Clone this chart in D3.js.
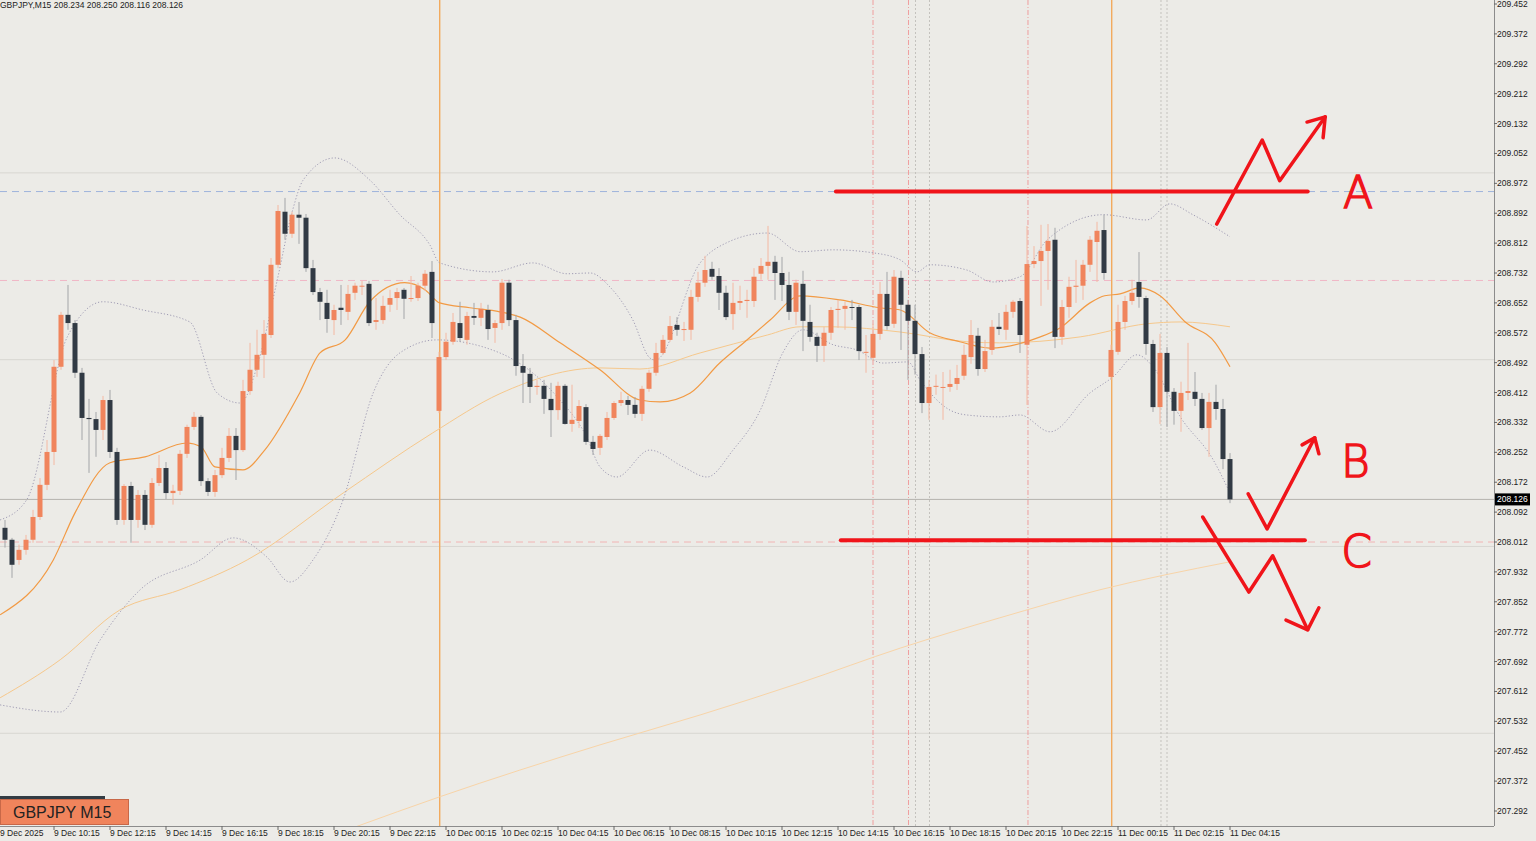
<!DOCTYPE html>
<html><head><meta charset="utf-8">
<script src="https://cdn.jsdelivr.net/npm/d3@7"></script>
<style>body{margin:0;background:#ecebe7;overflow:hidden}svg{display:block}</style>
</head><body>
<svg id="c" width="1536" height="841"></svg>
<script>
const opens=[208.050,208.018,207.964,207.991,208.018,208.079,208.165,208.253,208.481,208.620,
208.598,208.465,208.344,208.341,208.312,208.392,208.253,208.071,208.162,208.071,
208.138,208.058,208.170,208.210,208.143,208.149,208.248,208.320,208.347,208.175,
208.146,208.191,208.237,208.296,208.258,208.416,208.473,208.513,208.566,208.754,
208.896,208.837,208.888,208.880,208.745,208.681,208.652,208.606,208.639,208.628,
208.679,208.698,208.703,208.601,208.606,208.647,208.665,208.687,208.665,208.665,
208.698,208.735,208.363,208.507,208.548,208.598,208.553,208.617,208.612,208.633,
208.585,208.598,208.706,208.606,208.483,208.462,208.427,208.430,208.395,208.365,
208.430,208.328,208.336,208.373,208.280,208.264,208.293,208.344,208.384,208.392,
208.379,208.355,208.422,208.465,208.518,208.553,208.593,208.582,208.580,208.668,
208.706,208.743,208.724,208.679,208.622,208.652,208.657,208.657,208.730,208.751,
208.762,208.732,208.700,208.628,208.703,208.601,208.561,208.537,208.572,208.633,
208.636,208.641,208.641,208.521,208.505,208.569,208.676,208.596,208.719,208.647,
208.604,208.515,208.384,208.430,208.427,208.427,208.435,208.457,208.507,208.564,
208.475,208.526,208.588,208.580,208.628,208.657,208.540,208.756,208.764,208.791,
208.821,208.561,208.641,208.695,208.698,208.754,208.815,208.847,208.454,208.521,
208.601,208.657,208.708,208.665,208.542,208.373,208.518,208.414,208.363,208.411,
208.414,208.395,208.317,208.387,208.368,208.234];
const closes=[208.018,207.951,207.991,208.018,208.079,208.165,208.253,208.481,208.620,208.598,
208.465,208.344,208.341,208.312,208.392,208.253,208.071,208.162,208.071,208.138,
208.058,208.170,208.210,208.143,208.149,208.248,208.320,208.347,208.175,208.146,
208.191,208.237,208.296,208.258,208.416,208.473,208.513,208.569,208.754,208.898,
208.837,208.888,208.880,208.745,208.681,208.655,208.609,208.633,208.633,208.676,
208.698,208.698,208.598,208.606,208.644,208.665,208.681,208.663,208.665,208.698,
208.730,208.598,208.507,208.548,208.601,208.558,208.617,208.612,208.636,208.582,
208.598,208.706,208.606,208.483,208.465,208.427,208.430,208.395,208.365,208.430,
208.328,208.339,208.376,208.280,208.261,208.296,208.344,208.384,208.392,208.379,
208.355,208.422,208.465,208.518,208.553,208.590,208.580,208.582,208.668,208.706,
208.740,208.722,208.679,208.614,208.652,208.657,208.660,208.722,208.751,208.762,
208.732,208.700,208.628,208.706,208.604,208.561,208.537,208.572,208.633,208.636,
208.644,208.639,208.523,208.521,208.569,208.676,208.590,208.722,208.647,208.604,
208.515,208.384,208.427,208.430,208.427,208.435,208.451,208.513,208.566,208.475,
208.523,208.588,208.582,208.628,208.655,208.566,208.756,208.764,208.791,208.818,
208.561,208.641,208.695,208.698,208.754,208.821,208.845,208.732,208.526,208.601,
208.657,208.679,208.668,208.542,208.373,208.518,208.414,208.363,208.411,208.416,
208.395,208.317,208.387,208.368,208.234,208.126];
const highs=[208.071,208.023,208.005,208.031,208.098,208.183,208.285,208.499,208.628,208.700,
208.606,208.478,208.395,208.360,208.403,208.419,208.264,208.167,208.173,208.151,
208.151,208.183,208.245,208.226,208.165,208.258,208.326,208.360,208.352,208.183,
208.205,208.264,208.317,208.317,208.446,208.545,208.580,208.606,208.772,208.914,
208.933,208.896,208.922,208.890,208.767,208.692,208.687,208.647,208.700,208.700,
208.706,208.711,208.711,208.665,208.671,208.687,208.692,208.692,208.724,208.706,
208.740,208.764,208.521,208.572,208.625,208.655,208.628,208.652,208.652,208.647,
208.606,208.716,208.714,208.620,208.515,208.478,208.446,208.446,208.438,208.441,
208.435,208.433,208.392,208.381,208.296,208.301,208.360,208.389,208.414,208.403,
208.400,208.430,208.473,208.545,208.566,208.617,208.614,208.601,208.687,208.735,
208.778,208.762,208.745,208.698,208.706,208.698,208.687,208.745,208.772,208.858,
208.778,208.775,208.735,208.714,208.738,208.647,208.572,208.588,208.641,208.660,
208.655,208.660,208.647,208.566,208.596,208.708,208.735,208.740,208.738,208.660,
208.647,208.534,208.446,208.460,208.467,208.473,208.486,208.540,208.606,208.585,
208.553,208.606,208.625,208.647,208.660,208.665,208.858,208.804,208.861,208.863,
208.853,208.660,208.722,208.767,208.767,208.831,208.869,208.888,208.540,208.647,
208.671,208.714,208.788,208.671,208.553,208.569,208.534,208.424,208.441,208.545,
208.467,208.411,208.411,208.433,208.395,208.250];
const lows=[207.997,207.916,207.951,207.978,208.010,208.071,208.151,208.218,208.473,208.580,
208.451,208.285,208.197,208.240,208.285,208.237,208.058,208.058,208.010,208.050,
208.044,208.050,208.162,208.127,208.112,208.138,208.237,208.312,208.162,208.135,
208.133,208.183,208.226,208.178,208.253,208.406,208.454,208.451,208.558,208.745,
208.821,208.826,208.810,208.735,208.673,208.606,208.572,208.566,208.593,208.606,
208.660,208.673,208.590,208.580,208.596,208.628,208.633,208.609,208.655,208.657,
208.684,208.558,208.357,208.499,208.540,208.548,208.540,208.593,208.590,208.553,
208.545,208.580,208.590,208.457,208.384,208.384,208.406,208.355,208.293,208.339,
208.326,208.307,208.317,208.272,208.245,208.245,208.285,208.339,208.376,208.352,
208.344,208.336,208.414,208.457,208.513,208.548,208.564,208.550,208.553,208.655,
208.695,208.714,208.633,208.606,208.580,208.633,208.612,208.641,208.714,208.714,
208.660,208.657,208.606,208.593,208.523,208.548,208.494,208.494,208.553,208.585,
208.580,208.606,208.499,208.465,208.497,208.553,208.580,208.585,208.526,208.446,
208.460,208.357,208.339,208.406,208.339,208.414,208.419,208.446,208.489,208.457,
208.467,208.513,208.566,208.553,208.612,208.518,208.379,208.745,208.644,208.687,
208.531,208.540,208.612,208.652,208.660,208.735,208.708,208.714,208.446,208.513,
208.580,208.647,208.639,208.513,208.360,208.328,208.320,208.326,208.307,208.392,
208.376,208.312,208.240,208.339,208.207,208.116];

const ma20=[[-0.7,207.817],[6.9,207.964],[10,208.090],[15,208.224],[20,208.240],[26,208.277],[28,208.267],[30,208.213],[34,208.205],[37.1,208.258],[42.1,208.411],[45,208.518],[48.6,208.553],[52.1,208.655],[57.1,208.706],[60,208.687],[62.1,208.652],[66.4,208.639],[70.7,208.628],[73.6,208.614],[79.3,208.545],[85,208.473],[90.7,208.392],[93.6,208.387],[97.9,208.411],[102.1,208.491],[105.7,208.548],[109.3,208.606],[113.6,208.671],[119.3,208.660],[125,208.639],[127.9,208.633],[132.1,208.572],[136.4,208.548],[140.7,208.531],[147.9,208.561],[150.7,208.585],[155,208.652],[157.1,208.671],[159.3,208.676],[162.1,208.692],[165,208.671],[168.6,208.601],[172.9,208.545],[175,208.481]];
const ma50=[[-0.7,207.595],[7.9,207.697],[16.4,207.830],[25,207.884],[34.6,207.964],[48.3,208.143],[61.1,208.304],[70.7,208.409],[85,208.478],[90.7,208.475],[99.3,208.518],[108.9,208.566],[113.6,208.588],[118.3,208.588],[127.9,208.574],[137.4,208.548],[142.1,208.545],[153.6,208.561],[163.1,208.596],[167.9,208.601],[175,208.588]];
const ma200=[[50,207.249],[62.1,207.330],[85,207.469],[99.3,207.549],[113.6,207.635],[127.9,207.728],[142.1,207.809],[156.4,207.884],[175,207.959]];
const bbUpper=[[-0.7,208.071],[3.1,208.125],[8.9,208.561],[14,208.655],[19.7,208.633],[26.4,208.601],[30.3,208.411],[33.6,208.384],[36,208.481],[38.9,208.714],[41.1,208.901],[42.6,208.981],[47.1,209.040],[52.1,208.981],[56.4,208.888],[60.7,208.807],[62.1,208.759],[69.7,208.735],[75.4,208.759],[80.3,208.730],[83.6,208.732],[86.4,208.695],[89.7,208.606],[92.1,208.505],[92.9,208.499],[99.3,208.759],[103.1,208.813],[108.9,208.839],[113.6,208.789],[118.3,208.794],[124,208.786],[127.9,208.767],[130.3,208.735],[132.1,208.754],[137.4,208.740],[141.1,208.708],[145,208.722],[148.9,208.821],[156.9,208.888],[163.1,208.874],[166.4,208.917],[169.7,208.888],[175,208.829]];
const bbLower=[[-0.7,207.576],[7.9,207.557],[13.6,207.750],[19.3,207.884],[27.9,207.964],[32.6,208.023],[37.4,207.972],[40.7,207.905],[44,207.964],[48.3,208.125],[52.6,208.411],[56.4,208.518],[61.7,208.553],[70.7,208.518],[78.9,208.400],[83.1,208.293],[85,208.213],[87.4,208.186],[92.1,208.258],[96.9,208.213],[100.3,208.186],[104,208.258],[107.9,208.365],[111.1,208.518],[114,208.580],[118.3,208.540],[121.7,208.526],[125.4,208.491],[129,208.494],[130.7,208.446],[135,208.365],[137.4,208.352],[142.1,208.347],[145,208.352],[149.3,208.307],[155,208.411],[158.3,208.454],[161.7,208.513],[164,208.481],[167.9,208.347],[172.6,208.232],[175,208.143]];

const priceTicks=[209.452,209.372,209.292,209.212,209.132,209.052,208.972,208.892,208.812,208.732,208.652,208.572,208.492,208.412,208.332,208.252,208.172,208.092,208.012,207.932,207.852,207.772,207.692,207.612,207.532,207.452,207.372,207.292];
const timeLabels=["9 Dec 2025","9 Dec 10:15","9 Dec 12:15","9 Dec 14:15","9 Dec 16:15","9 Dec 18:15","9 Dec 20:15","9 Dec 22:15","10 Dec 00:15","10 Dec 02:15","10 Dec 04:15","10 Dec 06:15","10 Dec 08:15","10 Dec 10:15","10 Dec 12:15","10 Dec 14:15","10 Dec 16:15","10 Dec 18:15","10 Dec 20:15","10 Dec 22:15","11 Dec 00:15","11 Dec 02:15","11 Dec 04:15"];
const timeLabelIdx=[-1,7,15,23,31,39,47,55,63,71,79,87,95,103,111,119,127,135,143,151,159,167,175];
const gridLevels=[209.0,208.5,208.0,207.5];
const levelLines=[{p:208.950,c:"#9fb4dc",d:"7,5"},{p:208.712,c:"#f0b6c6",d:"7,5"},{p:208.012,c:"#f2b4b4",d:"7,5"}];
const daySeps=[62,158];
const redVLines=[124,129.07,146.14];
const greyVLines=[130.07,132.07,165.14,166];
const lastPrice=208.126;

const W=1536,H=841,plotR=1494,plotB=826;
const x=d3.scaleLinear().domain([0,175]).range([5,1230]);
const y=d3.scaleLinear().domain([207.292,209.452]).range([811,4]);
const svg=d3.select("#c");
svg.append("rect").attr("width",W).attr("height",H).attr("fill","#ecebe7");
svg.append("defs").append("clipPath").attr("id","pc").append("rect").attr("width",plotR).attr("height",plotB);
const g=svg.append("g").attr("clip-path","url(#pc)");

gridLevels.forEach(p=>g.append("line").attr("x1",0).attr("x2",plotR).attr("y1",y(p)).attr("y2",y(p)).attr("stroke","#d8d6d2"));
levelLines.forEach(l=>g.append("line").attr("x1",0).attr("x2",plotR).attr("y1",y(l.p)).attr("y2",y(l.p)).attr("stroke",l.c).attr("stroke-dasharray",l.d));
g.append("line").attr("x1",0).attr("x2",plotR).attr("y1",y(lastPrice)).attr("y2",y(lastPrice)).attr("stroke","#b5b3ae");
redVLines.forEach(i=>g.append("line").attr("x1",x(i)).attr("x2",x(i)).attr("y1",0).attr("y2",plotB).attr("stroke","#ef9e9e").attr("stroke-dasharray","5,2,1,2"));
greyVLines.forEach(i=>g.append("line").attr("x1",x(i)).attr("x2",x(i)).attr("y1",0).attr("y2",plotB).attr("stroke","#c4c2be").attr("stroke-dasharray","2,2"));
daySeps.forEach(i=>g.append("rect").attr("x",Math.round(x(i))).attr("y",0).attr("width",1.4).attr("height",plotB).attr("fill","#f2aa5e"));

const ln=d3.line().x(d=>x(d[0])).y(d=>y(d[1])).curve(d3.curveMonotoneX);
g.append("path").attr("d",ln(ma200)).attr("fill","none").attr("stroke","#f8d4a8").attr("stroke-width",1);
g.append("path").attr("d",ln(ma50)).attr("fill","none").attr("stroke","#f6c88c").attr("stroke-width",1);
[bbUpper,bbLower].forEach(b=>g.append("path").attr("d",ln(b)).attr("fill","none").attr("stroke","#a09cb4").attr("stroke-width",1).attr("stroke-dasharray","1.2,2"));
g.append("path").attr("d",ln(ma20)).attr("fill","none").attr("stroke","#f29a44").attr("stroke-width",1.2);

const idx=d3.range(opens.length);
g.selectAll(".w").data(idx).join("line").attr("x1",i=>x(i)).attr("x2",i=>x(i)).attr("y1",i=>y(highs[i])).attr("y2",i=>y(lows[i]))
 .attr("stroke",i=>closes[i]>=opens[i]?"#f4b8a2":"#a3a5a8").attr("stroke-width",1);
g.selectAll(".b").data(idx).join("rect").attr("x",i=>x(i)-2.5).attr("width",5)
 .attr("y",i=>y(Math.max(opens[i],closes[i]))).attr("height",i=>Math.max(1,Math.abs(y(opens[i])-y(closes[i]))))
 .attr("fill",i=>closes[i]>=opens[i]?"#f0845c":"#313a44");

const red="#f0141a";
const ann=svg.append("g").attr("fill","none").attr("stroke",red).attr("stroke-linecap","round").attr("stroke-linejoin","round");
const lin=d3.line().x(d=>x(d[0])).y(d=>y(d[1]));
ann.append("path").attr("d",lin([[118.7,208.950],[186.1,208.950]])).attr("stroke-width",4);
ann.append("path").attr("d",lin([[119.4,208.017],[185.7,208.017]])).attr("stroke-width",4);
ann.append("path").attr("d",lin([[173.1,208.863],[179.6,209.088],[182.1,208.979],[188.6,209.150]])).attr("stroke-width",3.5);
ann.append("path").attr("d",lin([[186,209.136],[188.6,209.150],[188.3,209.094]])).attr("stroke-width",3.5);
ann.append("path").attr("d",lin([[177.6,208.141],[180.3,208.047],[187.1,208.291]])).attr("stroke-width",3.5);
ann.append("path").attr("d",lin([[185.3,208.272],[187.1,208.291],[187.7,208.248]])).attr("stroke-width",3.5);
ann.append("path").attr("d",lin([[171.1,208.079],[177.7,207.878],[181.1,207.975],[186.1,207.777]])).attr("stroke-width",3.5);
ann.append("path").attr("d",lin([[183,207.803],[186.1,207.777],[187.7,207.836]])).attr("stroke-width",3.5);
const letters=[{t:"A",i:193.3,p:208.905},{t:"B",i:192.9,p:208.186},{t:"C",i:193.1,p:207.945}];
svg.selectAll(".lt").data(letters).join("text").attr("x",d=>x(d.i)).attr("y",d=>y(d.p)).attr("text-anchor","middle")
 .attr("font-family","DejaVu Sans, sans-serif").attr("font-weight",200).attr("font-size",44).attr("fill",red).attr("stroke",red).attr("stroke-width",1.5).text(d=>d.t);

svg.append("line").attr("x1",plotR+0.5).attr("x2",plotR+0.5).attr("y1",0).attr("y2",plotB).attr("stroke","#8c8c8c");
svg.append("line").attr("x1",0).attr("x2",plotR).attr("y1",plotB+0.5).attr("y2",plotB+0.5).attr("stroke","#8c8c8c");
const fnt="Liberation Sans, DejaVu Sans, sans-serif";
priceTicks.forEach(p=>{
  svg.append("line").attr("x1",plotR).attr("x2",plotR+3).attr("y1",y(p)).attr("y2",y(p)).attr("stroke","#666");
  svg.append("text").attr("x",1497).attr("y",y(p)+3).attr("font-family",fnt).attr("font-size",8.5).attr("fill","#222").text(p.toFixed(3));
});
svg.append("rect").attr("x",1495).attr("y",y(lastPrice)-6).attr("width",35).attr("height",12).attr("fill","#000");
svg.append("text").attr("x",1497).attr("y",y(lastPrice)+3).attr("font-family",fnt).attr("font-size",8.5).attr("fill","#fff").text(lastPrice.toFixed(3));
timeLabels.forEach((t,k)=>{
  const xx=x(timeLabelIdx[k]);
  svg.append("line").attr("x1",xx).attr("x2",xx).attr("y1",plotB).attr("y2",plotB+4).attr("stroke","#666");
  svg.append("text").attr("x",Math.max(0,xx)).attr("y",836).attr("font-family",fnt).attr("font-size",8.5).attr("fill","#222").text(t);
});
svg.append("text").attr("x",0).attr("y",8).attr("font-family",fnt).attr("font-size",8.5).attr("fill","#222").text("GBPJPY,M15  208.234 208.250 208.116 208.126");
svg.append("rect").attr("x",0).attr("y",796).attr("width",105).attr("height",3).attr("fill","#333c44");
svg.append("rect").attr("x",0.5).attr("y",799.5).attr("width",128).attr("height",25).attr("fill","#f0845c").attr("stroke","#c86848");
svg.append("text").attr("x",13).attr("y",818).attr("font-family",fnt).attr("font-size",16).attr("fill","#222").text("GBPJPY M15");
</script>
</body></html>
